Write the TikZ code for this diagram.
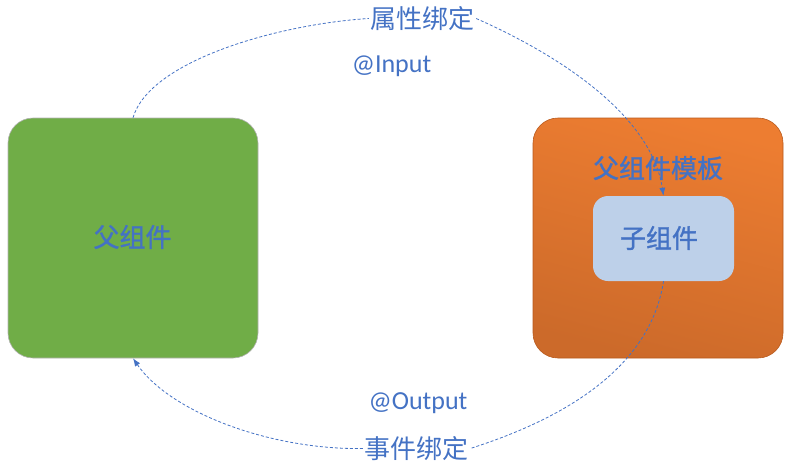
\documentclass[tikz,border=0pt]{standalone}
\usepackage{fontspec}
\setmainfont{Carlito}
\newfontfamily\cjk{Noto Sans CJK SC}
\newfontfamily\cjkb[FakeBold=1.2]{Noto Sans CJK SC}
\usetikzlibrary{arrows.meta}
\definecolor{txtblue}{HTML}{4472C4}
\definecolor{boxgreen}{HTML}{70AD47}
\definecolor{orgtop}{HTML}{ED7D31}
\definecolor{orgbot}{HTML}{CC6A2A}
\definecolor{orgline}{HTML}{B8591C}
\definecolor{childblue}{HTML}{BDD0E9}
\tikzset{
  bigbox/.style={rounded corners=25pt, minimum width=250pt, minimum height=240pt, inner sep=0pt, line width=0.6pt},
  boxlabel/.style={text=txtblue, font=\cjkb\fontsize{26}{26}\selectfont, inner sep=0pt},
  linklabel/.style={text=txtblue, font=\cjk\fontsize{26}{26}\selectfont, inner sep=1.5pt},
  annot/.style={text=txtblue, font=\fontsize{26}{26}\selectfont, inner sep=0pt},
  link/.style={draw=txtblue, line width=0.8pt, dash pattern=on 3pt off 2pt},
  tip/.style={-{Latex[length=8pt,width=6pt]}}
}
\begin{document}
\begin{tikzpicture}[x=1pt,y=-1pt]
\useasboundingbox (0,0) rectangle (793,469);
\node[bigbox, fill=boxgreen, draw=black!30] (parent) at (133,238) {};
\node[bigbox, top color=orgtop, bottom color=orgbot, shading angle=-15, draw=orgline] (tmpl) at (658,238) {};
\node[rounded corners=15pt, fill=childblue, minimum width=141pt, minimum height=85pt, inner sep=0pt] (child) at (663.5,238.5) {};
\node[boxlabel] (ptext) at (132.5,237) {父组件};
\node[boxlabel] (ttext) at (658,168) {父组件模板};
\node[boxlabel] (ctext) at (659,238) {子组件};
\node[linklabel] (ltop) at (422.5,18.5) {属性绑定};
\node[linklabel] (lbot) at (416.5,448.5) {事件绑定};
\node[annot, anchor=base] (ain) at (391.5,72) {@Input};
\node[annot, anchor=base] (aout) at (418,409) {@Output};
\draw[link] (parent.north) .. controls (150,60) and (280,24) .. (ltop.west);
\draw[link, tip] (ltop.east) .. controls (570,60) and (652,120) .. (child.north);
\draw[link] (child.south) .. controls (650,370) and (560,420) .. (lbot.east);
\draw[link, tip] (lbot.west) .. controls (270,450) and (170,412) .. (parent.south);
\end{tikzpicture}
\end{document}
